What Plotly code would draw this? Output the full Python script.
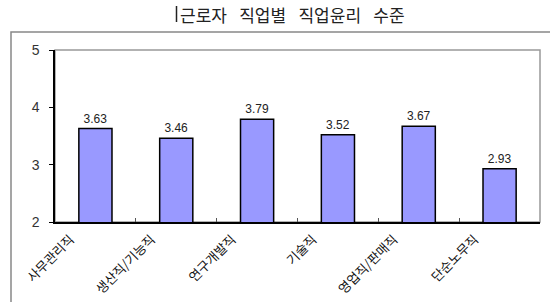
import plotly.graph_objects as go

categories = ["사무관리직", "생산직/기능직", "연구개발직", "기술직", "영업직/판매직", "단순노무직"]
values = [3.63, 3.46, 3.79, 3.52, 3.67, 2.93]
value_labels = ["3.63", "3.46", "3.79", "3.52", "3.67", "2.93"]
y_ticks = [2, 3, 4, 5]
title_words = ["근로자", "직업별", "직업윤리", "수준"]

W, H = 550, 302
L, R, T, B = 55, 10, 50, 80
pw, ph = W - L - R, H - T - B

def px(x):
    return (x - L) / pw

def py(y):
    return (H - B - y) / ph

font = "Noto Sans CJK KR, Noto Sans, sans-serif"

fig = go.Figure()
fig.add_trace(go.Bar(
    x=categories, y=values, base=0,
    marker=dict(color="#9999FF", line=dict(color="#000000", width=1.5)),
    width=0.41,
    text=value_labels, textposition="outside",
    textfont=dict(size=12, color="#222222", family="Arial, Liberation Sans, sans-serif"),
    cliponaxis=False,
))

fig.update_layout(
    width=W, height=H,
    margin=dict(l=L, r=R, t=T, b=B),
    paper_bgcolor="white", plot_bgcolor="white",
    showlegend=False,
    font=dict(family=font),
    xaxis=dict(
        automargin=False,
        showline=True, linecolor="#000000", linewidth=1.5,
        ticks="inside", tickson="boundaries", ticklen=4, tickcolor="#555555",
        tickangle=-45,
        ticklabelshift=-25, ticklabelstandoff=3,
        tickfont=dict(size=13, color="#111111", family=font),
        showgrid=False,
    ),
    yaxis=dict(
        automargin=False,
        range=[2, 5], tickvals=y_ticks,
        showline=True, linecolor="#000000", linewidth=1.5,
        ticks="outside", ticklen=4, tickcolor="#000000",
        ticklabelstandoff=7,
        tickfont=dict(size=14, color="#333333", family="Arial, Liberation Sans, sans-serif"),
        showgrid=False, zeroline=False,
    ),
    shapes=[
        dict(type="rect", xref="paper", yref="paper",
             x0=px(11), x1=px(553), y0=py(306), y1=py(32),
             line=dict(color="#888888", width=1.5), fillcolor="rgba(0,0,0,0)", layer="below"),
        dict(type="rect", xref="paper", yref="paper",
             x0=0, x1=1, y0=0, y1=1,
             line=dict(color="#999999", width=1.5), fillcolor="rgba(0,0,0,0)", layer="below"),
        dict(type="line", xref="paper", yref="paper",
             x0=px(176.5), x1=px(176.5), y0=py(22), y1=py(6),
             line=dict(color="#222222", width=1.5)),
    ],
    annotations=[
        dict(text="\u2002 ".join(title_words), xref="paper", yref="paper",
             x=px(178), y=py(14), xanchor="left", yanchor="middle",
             showarrow=False, font=dict(size=17, color="#222222", family=font)),
    ],
)

fig.write_html("out.html")
